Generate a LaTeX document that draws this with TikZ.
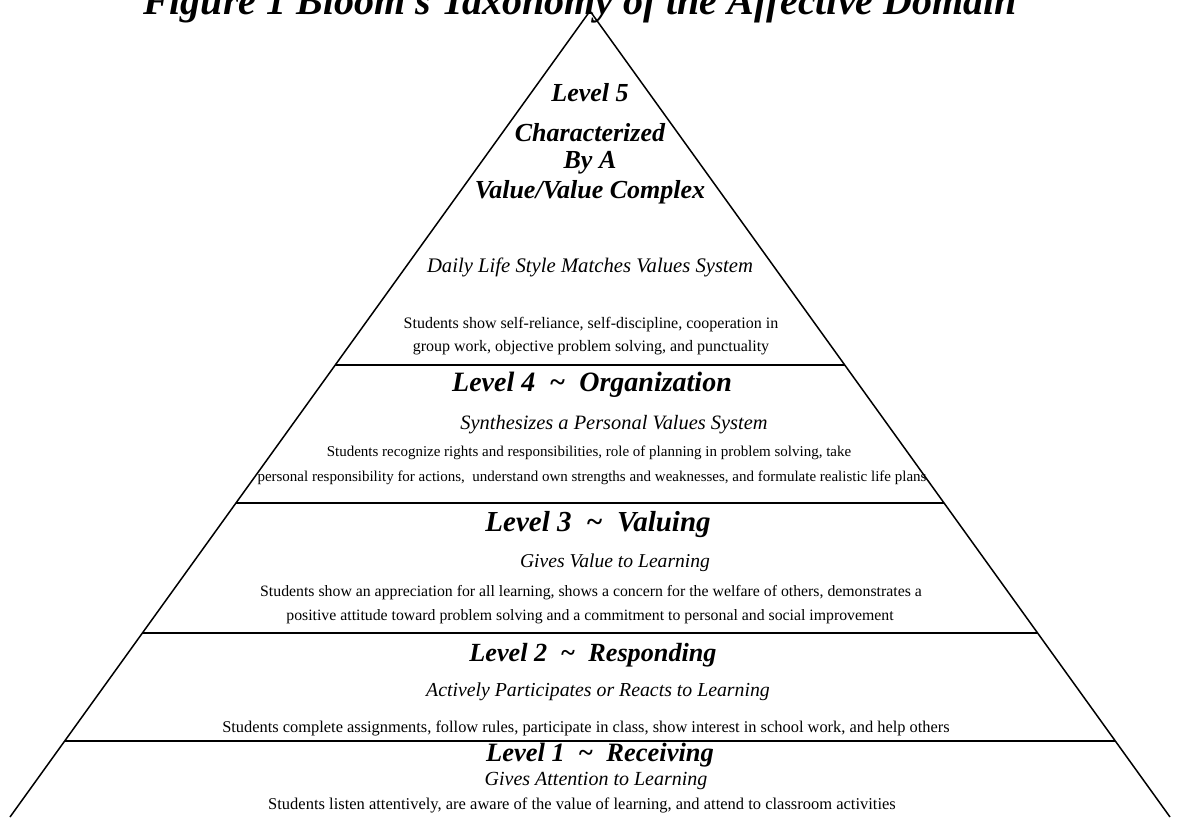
\documentclass[tikz,border=0pt]{standalone}
\usepackage{fontspec}
\setmainfont{Liberation Serif}
\usetikzlibrary{calc}

\tikzset{
  heading/.style={font=\fontsize{#1}{#1}\selectfont\bfseries\itshape},
  heading/.default=27,
  subhead/.style={font=\fontsize{#1}{#1}\selectfont\itshape},
  subhead/.default=20,
  body/.style={font=\fontsize{#1}{#1}\selectfont},
  body/.default=15,
  side/.style={line width=1.5pt},
  band/.style={line width=2.4pt},
}

\begin{document}
\begin{tikzpicture}[x=1pt,y=-1pt,inner sep=0pt]
      \useasboundingbox (0,0) rectangle (1183,817);
      % title, cut by the page edge
      \node[anchor=base,heading=40] (title) at (580,14)
        {Figure 1 Bloom's Taxonomy of the Affective Domain};
      % the pyramid
      \coordinate (apex) at (590,11);
      \coordinate (bl) at (10,817);
      \coordinate (br) at (1170,817);
      \draw[side] (bl) -- (apex) -- (br);
      \draw[band] ($(apex)!0.4392!(bl)$) -- ($(apex)!0.4392!(br)$);
      \draw[band] ($(apex)!0.6104!(bl)$) -- ($(apex)!0.6104!(br)$);
      \draw[band] ($(apex)!0.7717!(bl)$) -- ($(apex)!0.7717!(br)$);
      \draw[band] ($(apex)!0.9057!(bl)$) -- ($(apex)!0.9057!(br)$);
      % level 5
      \node[heading=26] (l5) at (590,93) {Level 5};
      \node[heading=26] (l5a) at (590,133) {Characterized};
      \node[heading=26] (l5b) at (590,163) {By A};
      \node[heading=26] (l5c) at (590,192) {Value/Value Complex};
      \node[subhead=20.7] (s5) at (590,267) {Daily Life Style Matches Values System};
      \node[body=16] (b5a) at (591,325) {Students show self-reliance, self-discipline, cooperation in};
      \node[body=16] (b5b) at (591,348) {group work, objective problem solving, and punctuality};
      % level 4
      \node[heading=28] (l4) at (592,385) {Level 4~~\char`\~~~Organization};
      \node[subhead=20.4] (s4) at (614,425) {Synthesizes a Personal Values System};
      \node[body=15] (b4a) at (589,453) {Students recognize rights and responsibilities, role of planning in problem solving, take};
      \node[body=15] (b4b) at (592,478) {personal responsibility for actions,~ understand own strengths and weaknesses, and formulate realistic life plans};
      % level 3
      \node[heading=29] (l3) at (598,525) {Level 3~~\char`\~~~Valuing};
      \node[subhead=19.6] (s3) at (615,563) {Gives Value to Learning};
      \node[body=15.8] (b3a) at (591,593) {Students show an appreciation for all learning, shows a concern for the welfare of others, demonstrates a};
      \node[body=15.8] (b3b) at (590,617) {positive attitude toward problem solving and a commitment to personal and social improvement};
      % level 2
      \node[heading=26.2] (l2) at (593,655) {Level 2~~\char`\~~~Responding};
      \node[subhead=19.8] (s2) at (598,692) {Actively Participates or Reacts to Learning};
      \node[body=16.4] (b2) at (586,728) {Students complete assignments, follow rules, participate in class, show interest in school work, and help others};
      % level 1
      \node[heading=26.5] (l1) at (600,755) {Level 1~~\char`\~~~Receiving};
      \node[subhead=20] (s1) at (596,781) {Gives Attention to Learning};
      \node[body=16.5] (b1) at (582,805) {Students listen attentively, are aware of the value of learning, and attend to classroom activities};
\end{tikzpicture}
\end{document}
